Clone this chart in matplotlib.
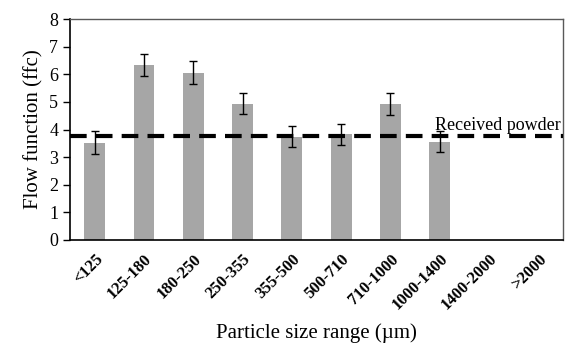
import matplotlib
matplotlib.use("Agg")
import matplotlib.pyplot as plt
import numpy as np

plt.rcParams["font.family"] = ["Liberation Serif", "DejaVu Serif"]

# ---------------------------------------------------------------------------
# Data
# ---------------------------------------------------------------------------
size_ranges = ["<125", "125-180", "180-250", "250-355", "355-500",
               "500-710", "710-1000", "1000-1400", "1400-2000", ">2000"]
ffc = [3.52, 6.33, 6.05, 4.93, 3.73, 3.83, 4.92, 3.56, np.nan, np.nan]
ffc_err = [0.41, 0.40, 0.42, 0.38, 0.38, 0.38, 0.40, 0.38, np.nan, np.nan]
received_ffc = 3.75

# ---------------------------------------------------------------------------
# Plot
# ---------------------------------------------------------------------------
fig = plt.figure(figsize=(5.8, 3.64), dpi=100)
ax = fig.add_axes([70 / 580, 1 - 240 / 364, 493 / 580, 221 / 364])

x = np.arange(len(size_ranges))
ax.bar(x, ffc, width=0.42, color="#a6a6a6", zorder=2)
ax.errorbar(x, ffc, yerr=ffc_err, fmt="none", ecolor="black",
            elinewidth=1.0, capsize=3, capthick=1.0, zorder=3)

ax.axhline(received_ffc, color="black", linestyle=(0, (4, 2.2)),
           linewidth=3, zorder=4)
ax.text(len(size_ranges) - 0.55, received_ffc + 0.08, "Received powder",
        ha="right", va="bottom", fontsize=13, zorder=5)

ax.set_xlim(-0.5, len(size_ranges) - 0.5)
ax.set_ylim(0, 8)
ax.set_yticks(range(0, 9))
ax.set_xticks(x)
ax.set_xticklabels(size_ranges, rotation=45, ha="right",
                   rotation_mode="anchor", fontweight="bold", fontsize=12)
ax.tick_params(axis="x", length=0, pad=8)
ax.tick_params(axis="y", labelsize=13, length=5, width=1, direction="out")

for side in ("top", "right"):
    ax.spines[side].set_color("#595959")
    ax.spines[side].set_linewidth(1.0)
for side in ("left", "bottom"):
    ax.spines[side].set_color("black")
    ax.spines[side].set_linewidth(1.2)

ax.set_ylabel("Flow function (ffc)", fontsize=15)
ax.set_xlabel("Particle size range (\u00b5m)", fontsize=15, labelpad=7)

fig.savefig("out.png", dpi=100)
